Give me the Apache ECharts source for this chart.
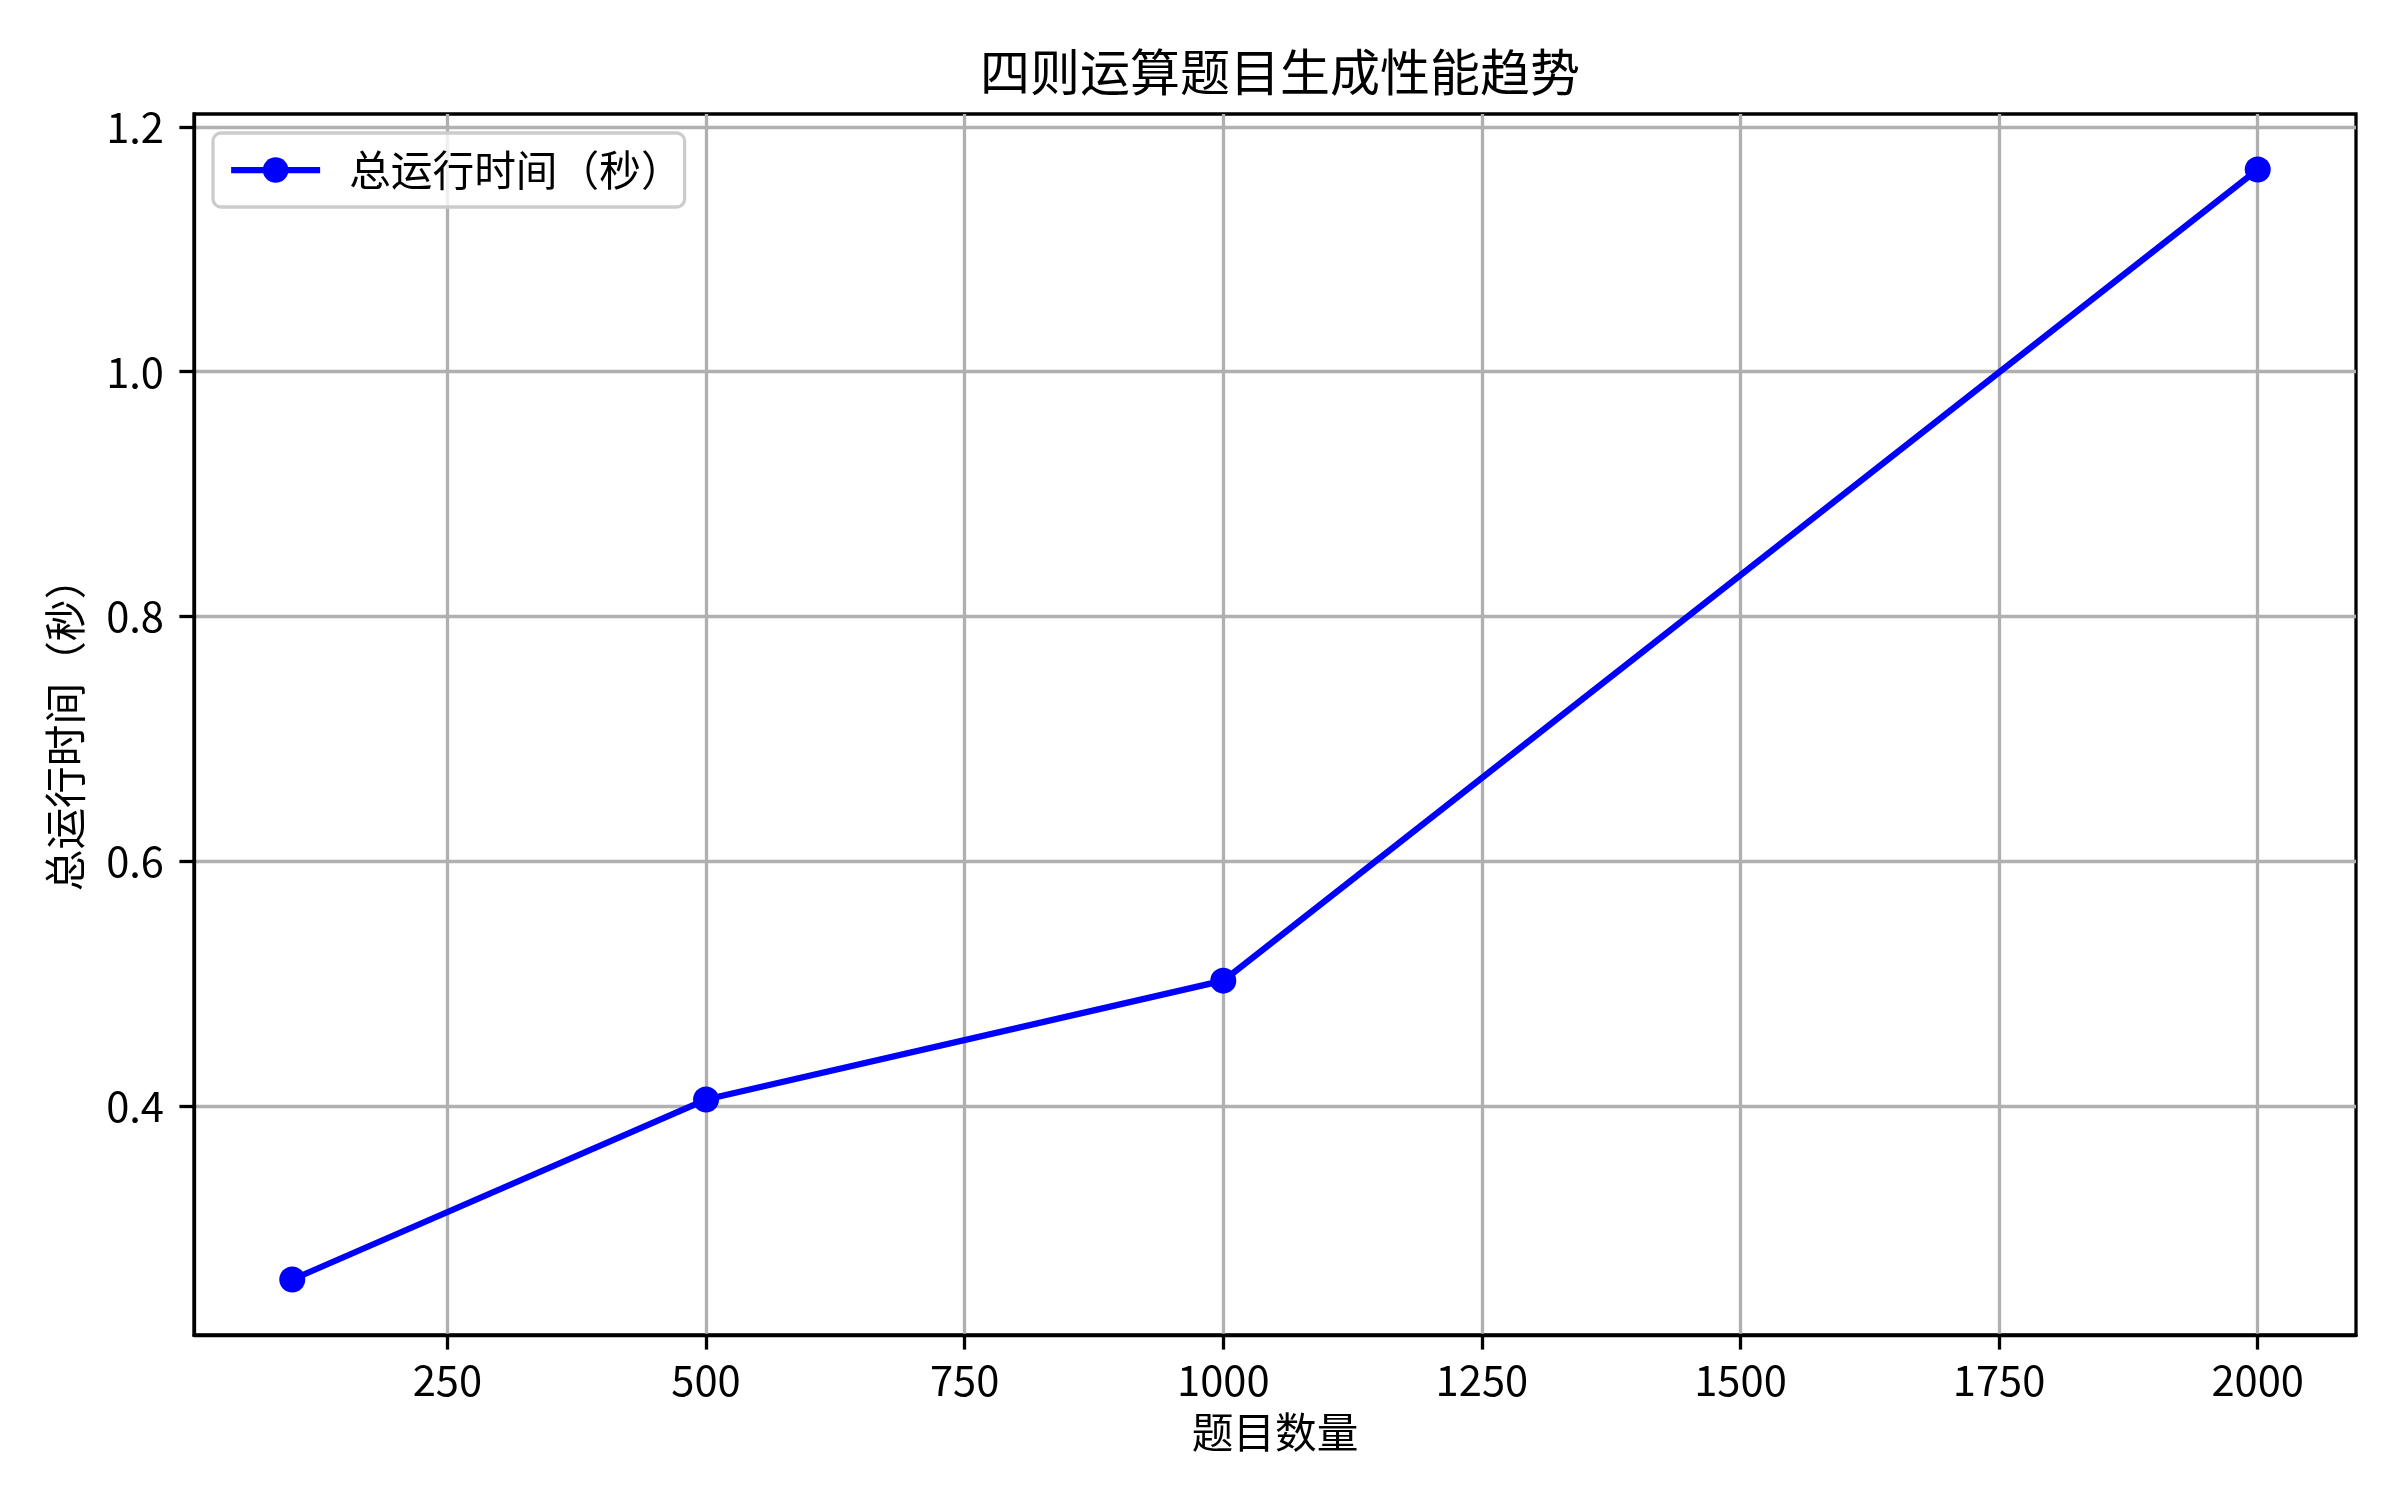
<!DOCTYPE html>
<html>
<head>
<meta charset="utf-8">
<script src="https://cdn.jsdelivr.net/npm/echarts@6/dist/echarts.min.js"></script>
<style>
html,body{margin:0;padding:0;background:#fff;}
#chart{width:2400px;height:1500px;}
</style>
</head>
<body>
<div id="chart"></div>
<script>
const titleText = '四则运算题目生成性能趋势';
const xName = '题目数量';
const yName = '总运行时间（秒）';
const seriesName = '总运行时间（秒）';
const questionCounts = [100, 500, 1000, 2000];
const totalTime = [0.2585, 0.4055, 0.5026, 1.1652];
const xTicks = [250, 500, 750, 1000, 1250, 1500, 1750, 2000];
const yTicks = [0.4, 0.6, 0.8, 1.0, 1.2];

const FONT = '"Noto Sans CJK SC", "Noto Sans", sans-serif';
const chart = echarts.init(document.getElementById('chart'), null, {renderer: 'canvas'});

const xMin = 100 - 0.05 * (2000 - 100);
const xMax = 2000 + 0.05 * (2000 - 100);
const yLo = Math.min(...totalTime), yHi = Math.max(...totalTime);
const yMin = yLo - 0.05 * (yHi - yLo);
const yMax = yHi + 0.05 * (yHi - yLo);

chart.setOption({
  animation: false,
  backgroundColor: '#ffffff',
  textStyle: {fontFamily: FONT, color: '#000'},
  title: {
    text: titleText,
    left: 1275, top: 42,
    textAlign: 'center',
    textStyle: {fontFamily: FONT, fontSize: 50, fontWeight: 'normal', color: '#000'}
  },
  grid: {
    left: 194, right: 44, top: 114, bottom: 165,
    show: true, borderColor: '#000', borderWidth: 3.3, backgroundColor: 'transparent'
  },
  legend: {
    left: 213, top: 133,
    orient: 'vertical',
    backgroundColor: 'rgba(255,255,255,0.8)',
    borderColor: '#cccccc', borderWidth: 3.3, borderRadius: 8,
    padding: [15, 2, 15, 15],
    itemWidth: 89, itemHeight: 32,
    lineStyle: {width: 6.25, color: '#0000ff'},
    itemStyle: {color: '#0000ff'},
    textStyle: {fontFamily: FONT, fontSize: 41.7, color: '#000', padding: [0, 0, 0, 24], lineHeight: 44},
    data: [{name: seriesName}]
  },
  xAxis: {
    type: 'value',
    min: xMin, max: xMax,
    name: xName,
    nameLocation: 'middle',
    nameGap: 76,
    nameTextStyle: {fontFamily: FONT, fontSize: 41.7, color: '#000'},
    axisLine: {show: true, lineStyle: {color: '#000', width: 3.3}},
    axisTick: {show: true, length: 14.6, lineStyle: {color: '#000', width: 3.3}, customValues: xTicks},
    axisLabel: {fontFamily: FONT, fontSize: 41.7, color: '#000', margin: 24, customValues: xTicks,
      formatter: v => String(v)},
    splitLine: {show: true, lineStyle: {color: '#b0b0b0', width: 3.3}}
  },
  yAxis: {
    type: 'value',
    min: yMin, max: yMax,
    name: yName,
    nameLocation: 'middle',
    nameRotate: 90,
    nameGap: 108,
    nameTextStyle: {fontFamily: FONT, fontSize: 41.7, color: '#000'},
    axisLine: {show: true, lineStyle: {color: '#000', width: 3.3}},
    axisTick: {show: true, length: 14.6, lineStyle: {color: '#000', width: 3.3}, customValues: yTicks},
    axisLabel: {fontFamily: FONT, fontSize: 41.7, color: '#000', margin: 30, customValues: yTicks,
      formatter: v => Number(v).toFixed(1)},
    splitLine: {show: true, lineStyle: {color: '#b0b0b0', width: 3.3}}
  },
  series: [{
    name: seriesName,
    type: 'line',
    data: questionCounts.map((q, i) => [q, totalTime[i]]),
    symbol: 'circle',
    symbolSize: 26,
    showSymbol: true,
    lineStyle: {color: '#0000ff', width: 6.25},
    itemStyle: {color: '#0000ff', borderWidth: 0}
  }]
});
</script>
</body>
</html>
